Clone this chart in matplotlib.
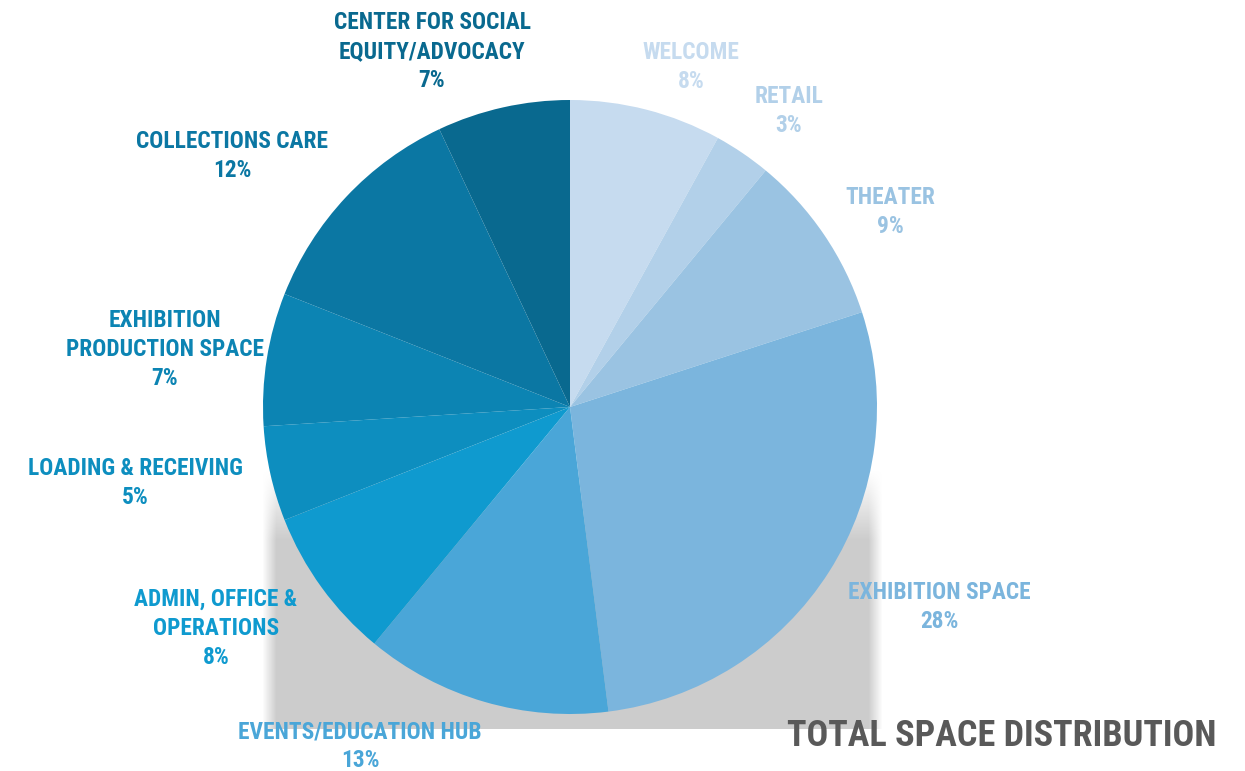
import numpy as np
import matplotlib
matplotlib.use("Agg")
import matplotlib.pyplot as plt
from matplotlib import font_manager

# data, clockwise from 12 o'clock
categories = ["WELCOME", "RETAIL", "THEATER", "EXHIBITION SPACE",
              "EVENTS/EDUCATION HUB", "ADMIN, OFFICE &\nOPERATIONS",
              "LOADING & RECEIVING", "EXHIBITION\nPRODUCTION SPACE",
              "COLLECTIONS CARE", "CENTER FOR SOCIAL\nEQUITY/ADVOCACY"]
shares = [8, 3, 9, 28, 13, 8, 5, 7, 12, 7]
colors = ["#c6dbef", "#b2d0e9", "#9ac3e2", "#7bb5dd", "#4aa6d8",
          "#0f9acf", "#0d8ebf", "#0c84b3", "#0b77a3", "#09698f"]
title = "TOTAL SPACE DISTRIBUTION"

# label centres in figure pixels (top-left origin), y = first line
label_pos = [(691, 50), (789, 94), (890, 195), (939, 590), (360, 729),
             (216, 597), (135, 466), (165, 318), (232, 139), (432, 20)]
line_gap = 29

names = {f.name for f in font_manager.fontManager.ttflist}
fam = "Roboto Condensed" if "Roboto Condensed" in names else \
      ("Liberation Sans Narrow" if "Liberation Sans Narrow" in names else "Roboto")

W, H = 1245, 771
fig = plt.figure(figsize=(W / 100, H / 100), dpi=100)

# soft gray shadow behind the lower half of the pie
bg = fig.add_axes([0, 0, 1, 1])
bg.set_xlim(0, W)
bg.set_ylim(H, 0)
bg.axis("off")
yy, xx = np.mgrid[0:H, 0:W]
sx = np.clip((xx - 262) / 14, 0, 1) * np.clip((882 - xx) / 14, 0, 1)
sy = np.clip((yy - 470) / 70, 0, 1) * (yy <= 728)
alpha = sx * sy
rgba = np.zeros((H, W, 4))
rgba[..., :3] = 0.80
rgba[..., 3] = alpha
bg.imshow(rgba, extent=(0, W, H, 0), interpolation="bilinear", zorder=0)

# pie
cx, cy, r = 570, 407, 307
ax = fig.add_axes([(cx - r) / W, (H - cy - r) / H, 2 * r / W, 2 * r / H])
ax.pie(shares, colors=colors, startangle=90, counterclock=False,
       wedgeprops=dict(linewidth=0))
ax.set_xlim(-1, 1)
ax.set_ylim(-1, 1)
ax.set_aspect("equal")
ax.axis("off")

for name, val, col, (px, py) in zip(categories, shares, colors, label_pos):
    lines = name.split("\n") + [f"{val}%"]
    for i, ln in enumerate(lines):
        bg.text(px, py + i * line_gap, ln, ha="center", va="center_baseline",
                color=col, fontsize=16.8, fontweight="bold", family=fam,
                zorder=5)

bg.text(787, 736, title, ha="left", va="center", color="#595959",
        fontsize=26, fontweight="bold", family=fam, zorder=5)

fig.savefig("out.png", dpi=100)
